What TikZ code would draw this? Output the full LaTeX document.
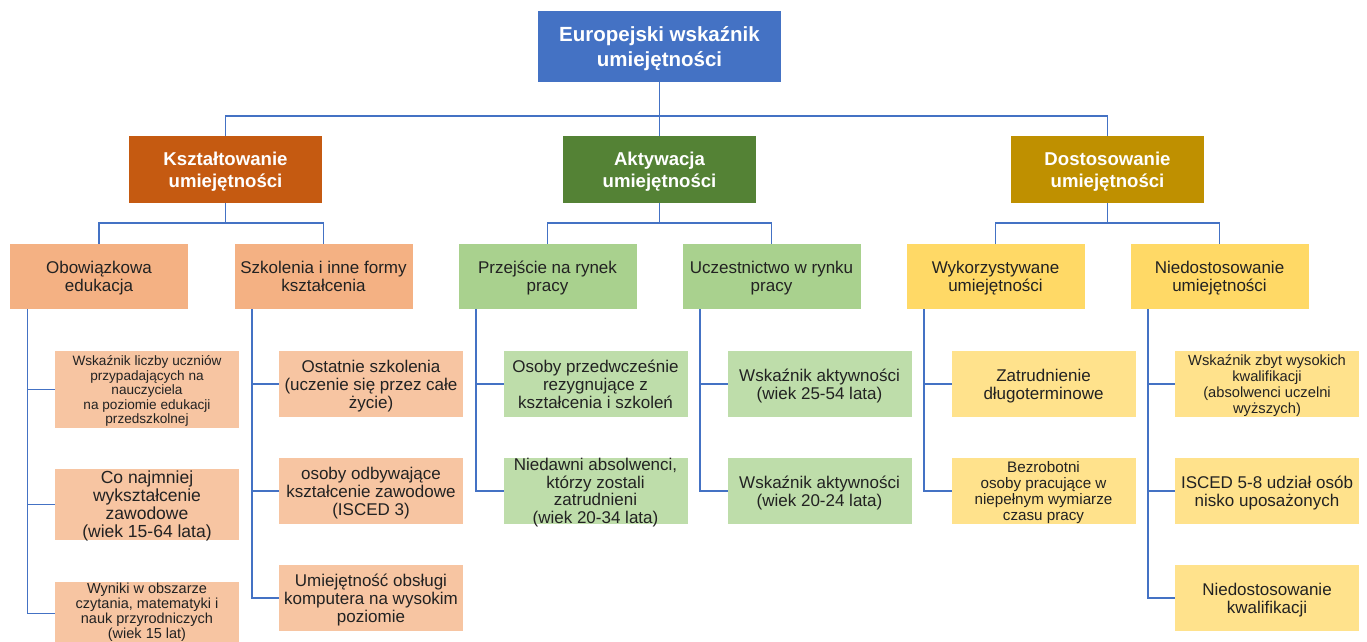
\documentclass[tikz,border=0pt]{standalone}
\usepackage{fontspec}
\setmainfont{Liberation Sans}
\newcommand{\boxtxt}[2][5pt]{\vbox to 0pt{\vskip #1\vss\hbox{\begin{tabular}{@{}c@{}}#2\end{tabular}}\vss}}
\definecolor{lineblue}{HTML}{4472C4}
\definecolor{rootblue}{HTML}{4472C4}
\definecolor{korange}{HTML}{C55A11}
\definecolor{agreen}{HTML}{548235}
\definecolor{dgold}{HTML}{BF9000}
\definecolor{lorange}{HTML}{F4B183}
\definecolor{lgreen}{HTML}{A9D18E}
\definecolor{lyellow}{HTML}{FFD966}
\definecolor{txt}{HTML}{222222}
\begin{document}
\begin{tikzpicture}[x=1pt,y=-1pt,
  box/.style={rectangle, inner sep=0pt, outer sep=0pt, anchor=center},
  rootbox/.style={box, fill=rootblue, minimum width=243pt, minimum height=71pt, text=white, font=\bfseries\fontsize{20.5}{25}\selectfont},
  lone/.style={box, minimum width=193pt, minimum height=67pt, text=white, font=\bfseries\fontsize{18.6}{22}\selectfont},
  ltwo/.style={box, minimum width=178pt, minimum height=65pt, text=txt, font=\fontsize{17}{18}\selectfont},
  lthree/.style={box, minimum width=184pt, minimum height=66pt, text=txt, font=\fontsize{17}{18}\selectfont},
  small/.style={font=\fontsize{15.2}{16}\selectfont},
  conn/.style={draw=lineblue, line width=1.6pt}
]
\useasboundingbox (0,0) rectangle (1367,642);
\fill[white] (0,0) rectangle (1367,642);

% root and level 1
\node[rootbox] (root) at (659.5,46.5) {\boxtxt{Europejski wskaźnik\\umiejętności}};
\node[lone, fill=korange] (ksz) at (225.5,169.5) {\boxtxt{Kształtowanie\\umiejętności}};
\node[lone, fill=agreen] (akt) at (659.5,169.5) {\boxtxt{Aktywacja\\umiejętności}};
\node[lone, fill=dgold] (dos) at (1107.5,169.5) {\boxtxt{Dostosowanie\\umiejętności}};

% level 2
\node[ltwo, fill=lorange] (ob) at (99,276.5) {\boxtxt{Obowiązkowa\\edukacja}};
\node[ltwo, fill=lorange] (sz) at (323.5,276.5) {\boxtxt{Szkolenia i inne formy\\kształcenia}};
\node[ltwo, fill=lgreen] (pr) at (547.5,276.5) {\boxtxt{Przejście na rynek\\pracy}};
\node[ltwo, fill=lgreen] (uc) at (771.5,276.5) {\boxtxt{Uczestnictwo w rynku\\pracy}};
\node[ltwo, fill=lyellow] (wy) at (995.5,276.5) {\boxtxt{Wykorzystywane\\umiejętności}};
\node[ltwo, fill=lyellow] (ni) at (1219.5,276.5) {\boxtxt{Niedostosowanie\\umiejętności}};

% level 3
\node[lthree, fill=lorange!75!white, minimum height=77pt, font=\fontsize{13.6}{14.5}\selectfont] (ob1) at (147,389.5) {\boxtxt{Wskaźnik liczby uczniów\\przypadających na\\nauczyciela\\na poziomie edukacji\\przedszkolnej}};
\node[lthree, fill=lorange!75!white, minimum height=71pt, font=\fontsize{17.5}{18}\selectfont] (ob2) at (147,504.5) {\boxtxt{Co najmniej\\wykształcenie\\zawodowe\\(wiek 15-64 lata)}};
\node[lthree, fill=lorange!75!white, minimum height=63pt, font=\fontsize{14.5}{14.2}\selectfont] (ob3) at (147,613.5) {\boxtxt[-1.5pt]{Wyniki w obszarze\\czytania, matematyki i\\nauk przyrodniczych\\(wiek 15 lat)}};

\node[lthree, fill=lorange!75!white] (sz1) at (371,384) {\boxtxt{Ostatnie szkolenia\\(uczenie się przez całe\\życie)}};
\node[lthree, fill=lorange!75!white] (sz2) at (371,491) {\boxtxt{osoby odbywające\\kształcenie zawodowe\\(ISCED 3)}};
\node[lthree, fill=lorange!75!white] (sz3) at (371,598) {\boxtxt{Umiejętność obsługi\\komputera na wysokim\\poziomie}};

\node[lthree, fill=lgreen!75!white] (pr1) at (595.5,384) {\boxtxt{Osoby przedwcześnie\\rezygnujące z\\kształcenia i szkoleń}};
\node[lthree, fill=lgreen!75!white, font=\fontsize{17}{17.3}\selectfont] (pr2) at (595.5,491) {\boxtxt{Niedawni absolwenci,\\którzy zostali\\zatrudnieni\\(wiek 20-34 lata)}};

\node[lthree, fill=lgreen!75!white] (uc1) at (819.5,384) {\boxtxt{Wskaźnik aktywności\\(wiek 25-54 lata)}};
\node[lthree, fill=lgreen!75!white] (uc2) at (819.5,491) {\boxtxt{Wskaźnik aktywności\\(wiek 20-24 lata)}};

\node[lthree, fill=lyellow!75!white] (wy1) at (1043.5,384) {\boxtxt{Zatrudnienie\\długoterminowe}};
\node[lthree, fill=lyellow!75!white, small] (wy2) at (1043.5,491) {\boxtxt{Bezrobotni\\osoby pracujące w\\niepełnym wymiarze\\czasu pracy}};

\node[lthree, fill=lyellow!75!white, font=\fontsize{14.7}{16}\selectfont] (ni1) at (1267,384) {\boxtxt{Wskaźnik zbyt wysokich\\kwalifikacji\\(absolwenci uczelni\\wyższych)}};
\node[lthree, fill=lyellow!75!white] (ni2) at (1267,491) {\boxtxt{ISCED 5-8 udział osób\\nisko uposażonych}};
\node[lthree, fill=lyellow!75!white] (ni3) at (1267,598) {\boxtxt{Niedostosowanie\\kwalifikacji}};

% connectors root -> level 1
\draw[conn] (root.south) -- ++(0,34) -| (ksz.north);
\draw[conn] (root.south) -- ++(0,34) -| (dos.north);
\draw[conn] (root.south) -- (akt.north);

% level 1 -> level 2
\draw[conn] (ksz.south) -- ++(0,20) -| (ob.north);
\draw[conn] (ksz.south) -- ++(0,20) -| (sz.north);
\draw[conn] (akt.south) -- ++(0,20) -| (pr.north);
\draw[conn] (akt.south) -- ++(0,20) -| (uc.north);
\draw[conn] (dos.south) -- ++(0,20) -| (wy.north);
\draw[conn] (dos.south) -- ++(0,20) -| (ni.north);

% level 2 -> level 3
\foreach \p/\c in {ob/ob1, ob/ob2, ob/ob3, sz/sz1, sz/sz2, sz/sz3, pr/pr1, pr/pr2, uc/uc1, uc/uc2, wy/wy1, wy/wy2, ni/ni1, ni/ni2, ni/ni3}
  \draw[conn] ([xshift=17.5pt]\p.south west) |- (\c.west);
\end{tikzpicture}
\end{document}
